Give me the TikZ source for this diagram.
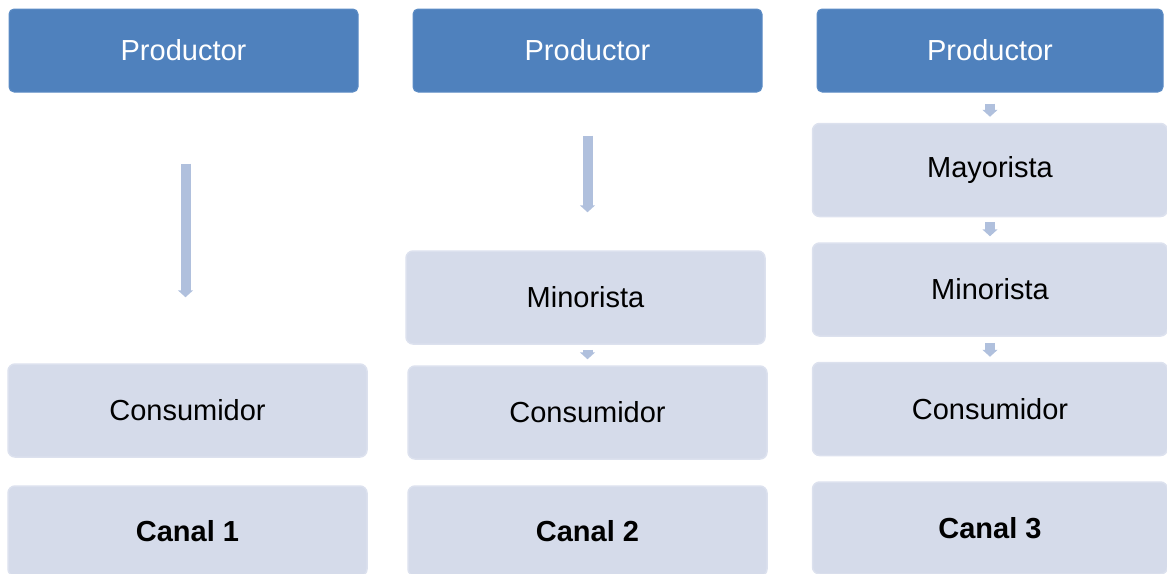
\documentclass[tikz,border=0pt]{standalone}
\usepackage{fontspec}
\setmainfont{Liberation Sans}
\usepackage{xcolor}
\usepackage{tikz}
\usetikzlibrary{arrows.meta}

\definecolor{prodblue}{RGB}{79,129,189}
\definecolor{prodedge}{RGB}{92,140,197}
\definecolor{stagefill}{RGB}{213,219,234}
\definecolor{stageedge}{RGB}{220,225,238}
\definecolor{flowblue}{RGB}{176,192,221}

\begin{document}
\begin{tikzpicture}[
  x=1pt, y=-1pt,
  prodbox/.style={rectangle, draw=prodedge, fill=prodblue, rounded corners=5pt, line width=1pt, inner sep=0pt, minimum width=349pt, minimum height=83pt, text=white, font=\fontsize{29}{34}\selectfont},
  stagebox/.style={rectangle, draw=stageedge, fill=stagefill, rounded corners=7pt, line width=1.5pt, inner sep=0pt, minimum width=359pt, minimum height=93pt, font=\fontsize{29}{34}\selectfont},
  canalbox/.style={stagebox, minimum height=90pt, font=\fontsize{29}{34}\selectfont\bfseries},
  flow/.style={draw=flowblue, line width=10pt, -{Triangle[width=15pt, length=7pt]}},
  every node/.style={inner sep=0pt}
]
\useasboundingbox (0,0) rectangle (1167,573);

% Canal 1: productor directo al consumidor
\node[prodbox] (prod1) at (183.5,50.5) {Productor};
\node[stagebox] (cons1) at (187.5,410.5) {Consumidor};
\node[canalbox] (canal1) at (187.5,531) {Canal 1};
\draw[flow, shorten <=71pt, shorten >=66pt] ([xshift=2pt]prod1.south) -- ([xshift=-2pt]cons1.north);

% Canal 2: con minorista
\node[prodbox] (prod2) at (587.5,50.5) {Productor};
\node[stagebox] (mino2) at (585.5,297.5) {Minorista};
\node[stagebox] (cons2) at (587.5,412.5) {Consumidor};
\node[canalbox] (canal2) at (587.5,531) {Canal 2};
\draw[flow, shorten <=43pt, shorten >=38pt] (prod2.south) -- (prod2.south |- mino2.north);
\draw[flow, shorten <=5pt, shorten >=6pt] ([xshift=2pt]mino2.south) -- ([xshift=2pt]mino2.south |- cons2.north);

% Canal 3: con mayorista y minorista
\node[prodbox, minimum width=346pt] (prod3) at (990,50.5) {Productor};
\node[stagebox, minimum width=355pt] (mayo3) at (990,170) {Mayorista};
\node[stagebox, minimum width=355pt] (mino3) at (990,289.5) {Minorista};
\node[stagebox, minimum width=355pt] (cons3) at (990,409) {Consumidor};
\node[canalbox, minimum width=355pt, minimum height=92pt] (canal3) at (990,528) {Canal 3};
\draw[flow, shorten <=11pt, shorten >=6pt] (prod3) -- (mayo3);
\draw[flow, shorten <=5pt, shorten >=6pt] (mayo3) -- (mino3);
\draw[flow, shorten <=6pt, shorten >=5pt] (mino3) -- (cons3);

\end{tikzpicture}
\end{document}
